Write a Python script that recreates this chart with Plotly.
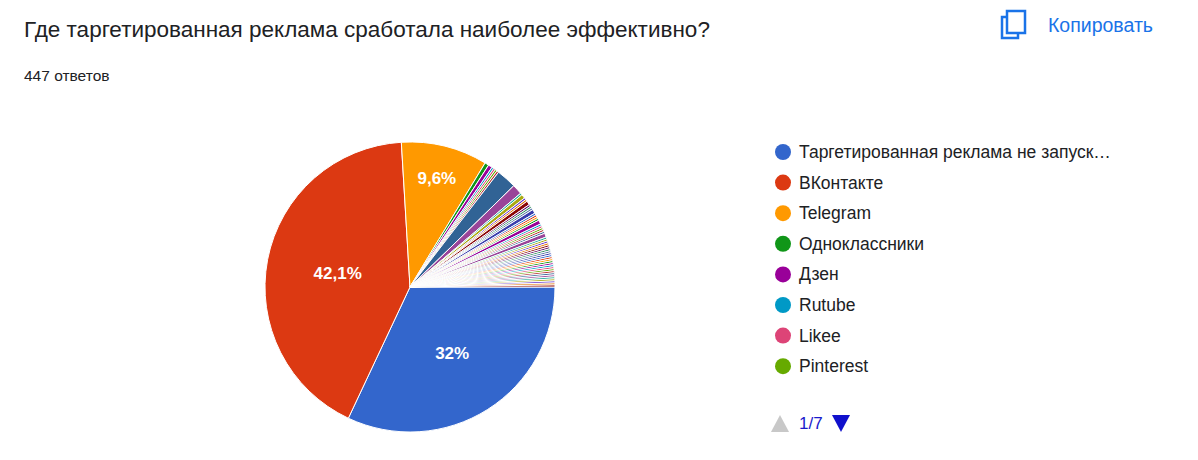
import plotly.graph_objects as go

W, H = 1198, 460
OFF = 8  # page margin in the browser

# Main answers (page 1 of the legend)
labels = ["Таргетированная реклама не запускалась", "ВКонтакте", "Telegram", "Одноклассники",
          "Дзен", "Rutube", "Likee", "Pinterest"]
values = [143, 188, 43, 2, 2, 1, 1, 1]

# other answers further down the legend (pages 2-7)
other_labels = ["Другой вариант %d" % i for i in range(1, 49)]
other_values = [1, 10, 5, 1, 2, 1, 1, 2, 1, 1, 1, 2, 1, 1, 1, 1, 2, 1, 1, 1, 1, 1, 2,
                1, 1, 1, 1, 1, 1, 1, 1, 1, 1, 1, 1, 1, 1, 1, 1, 1, 1, 1, 1, 1, 1, 1, 1, 1]

palette = ["#3366cc", "#dc3912", "#ff9900", "#109618", "#990099", "#0099c6", "#dd4477",
           "#66aa00", "#b82e2e", "#316395", "#994499", "#22aa99", "#aaaa11", "#6633cc",
           "#e67300", "#8b0707", "#651067", "#329262", "#5574a6", "#3b3eac"]

all_labels = labels + other_labels
all_values = values + other_values
total = sum(all_values)
colors = [palette[i % len(palette)] for i in range(len(all_values))]


def pct(v):
    p = round(v / total * 100, 1)
    if p < 5:
        return ""
    s = ("%d%%" % p) if p == int(p) else ("%.1f%%" % p).replace(".", ",")
    return "<b>" + s + "</b>"


def px(x):
    return x - OFF


def py(y):
    return H - (y - OFF)


font = "Arial, Liberation Sans, sans-serif"

fig = go.Figure(go.Pie(
    labels=all_labels, values=all_values, sort=False, direction="clockwise",
    rotation=90, marker=dict(colors=colors, line=dict(color="white", width=1)),
    text=[pct(v) for v in all_values], textinfo="text", textposition="inside",
    insidetextfont=dict(color="white", size=17, family=font),
    insidetextorientation="horizontal",
    domain=dict(x=[px(265) / W, px(555) / W], y=[py(432) / H, py(142) / H]),
    showlegend=False,
))

ann = [
    dict(x=px(22), y=py(30), text="Где таргетированная реклама сработала наиболее эффективно?",
         font=dict(size=22.5, color="#202124", family=font)),
    dict(x=px(22), y=py(75), text="447 ответов",
         font=dict(size=15.5, color="#202124", family=font)),
    dict(x=px(1046), y=py(25), text="Копировать",
         font=dict(size=19.5, color="#1a73e8", family=font)),
    dict(x=px(797), y=py(423), text="1/7",
         font=dict(size=17, color="#1a1acc", family=font)),
]
shapes = [
    # copy icon
    dict(type="rect", x0=px(1002), x1=px(1018), y0=py(17), y1=py(38), line=dict(color="#1a73e8", width=2.5)),
    dict(type="rect", x0=px(1007), x1=px(1025), y0=py(11), y1=py(33), line=dict(color="#1a73e8", width=2.5),
         fillcolor="white"),
    # pager triangles
    dict(type="path", path=f"M {px(771)} {py(432)} L {px(789)} {py(432)} L {px(780)} {py(415)} Z",
         fillcolor="#c8c8c8", line_width=0),
    dict(type="path", path=f"M {px(832)} {py(415)} L {px(850)} {py(415)} L {px(841)} {py(432)} Z",
         fillcolor="#1010cc", line_width=0),
]

for i, (lab, col) in enumerate(zip(labels, colors)):
    y = 152 + i * 30.6
    if len(lab) > 30:
        lab = "Таргетированная реклама не запуск…"
    shapes.append(dict(type="circle", x0=px(775), x1=px(791), y0=py(y) - 8, y1=py(y) + 8,
                       fillcolor=col, line_width=0))
    ann.append(dict(x=px(797), y=py(y), text=lab,
                    font=dict(size=17.5, color="#202124", family=font)))

for a in ann:
    a.update(x=a["x"] / W, y=a["y"] / H, xref="paper", yref="paper", showarrow=False,
             xanchor="left", yanchor="middle")
for s in shapes:
    s.update(xref="x", yref="y")

fig.update_layout(
    width=W, height=H, margin=dict(l=0, r=0, t=0, b=0),
    paper_bgcolor="white", plot_bgcolor="white",
    annotations=ann, shapes=shapes,
    xaxis=dict(range=[0, W], visible=False, fixedrange=True),
    yaxis=dict(range=[0, H], visible=False, fixedrange=True),
)

fig.write_html("out.html")
